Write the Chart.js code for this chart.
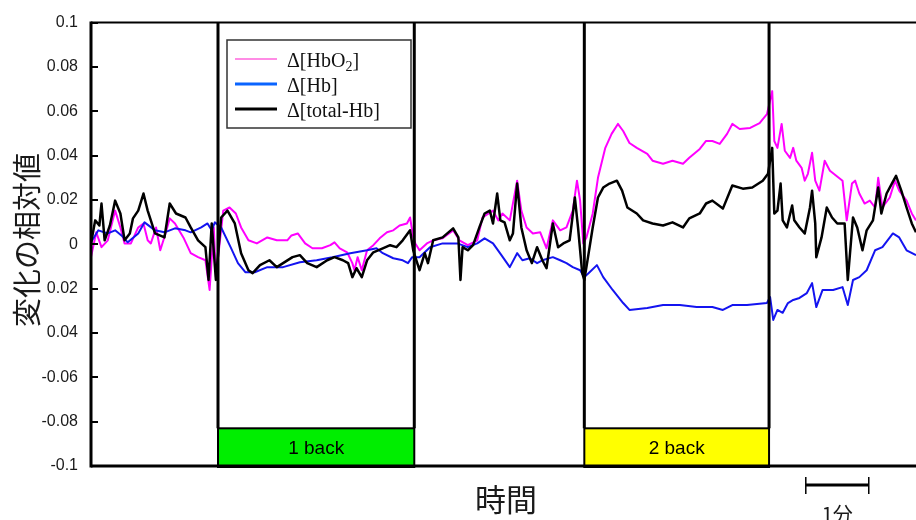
<!DOCTYPE html>
<html>
<head>
<meta charset="utf-8">
<script src="https://cdn.jsdelivr.net/npm/chart.js@4.4.1/dist/chart.umd.min.js"></script>
<style>
  html, body { margin: 0; padding: 0; background: #fff; }
  canvas { display: block; }
</style>
</head>
<body>
<canvas id="c" width="916" height="520"></canvas>
<script>
// Time (s) and relative change for each hemoglobin signal
const hbo2Time = [0,5,10,16,23,28,32,38,45,50,54,57,62,66,71,75,80,88,95,102,109,113,117,119,126,132,138,143,150,158,168,177,187,191,197,204,211,220,228,232,237,244,249,251,254,258,263,269,275,282,288,294,301,304,307,309,313,320,326,335,345,351,359,368,373,383,388,392,399,406,410,415,421,428,434,440,447,453,459,463,466,469,472,478,483,490,496,502,507,513,520,530,535,545,554,564,570,580,586,592,599,606,611,618,628,637,644,649,651,654,658,661,666,669,672,677,680,683,687,690,694,699,704,710,716,720,725,728,732,737,742,747,750,754,761,766,770,777,782,786];
const hbo2Values = [-0.0058,0.0054,-0.0013,0.0018,0.0152,0.0076,0.0004,0.0004,0.0076,0.0094,0.0018,0.0004,0.0076,-0.0027,0.0049,0.0117,0.0094,0.0031,-0.0040,-0.0058,-0.0072,-0.0206,0.0076,-0.0148,0.0152,0.0166,0.0139,0.0076,0.0018,0.0004,0.0031,0.0018,0.0018,0.0040,0.0049,0.0004,-0.0018,-0.0018,-0.0004,0.0009,-0.0018,-0.0036,-0.0085,-0.0117,-0.0058,-0.0117,-0.0027,-0.0004,0.0027,0.0054,0.0063,0.0085,0.0094,0.0121,0.0031,0.0004,-0.0027,0.0004,0.0018,0.0027,0.0063,0.0018,-0.0004,0.0018,0.0121,0.0152,0.0108,0.0139,0.0108,0.0287,0.0152,0.0076,0.0049,0.0054,-0.0018,0.0108,0.0063,0.0076,0.0152,0.0287,0.0197,0.0004,0.0031,0.0139,0.0300,0.0435,0.0498,0.0543,0.0511,0.0457,0.0435,0.0408,0.0377,0.0363,0.0377,0.0363,0.0390,0.0430,0.0466,0.0466,0.0453,0.0498,0.0543,0.0520,0.0525,0.0547,0.0587,0.0691,0.0466,0.0435,0.0543,0.0422,0.0390,0.0435,0.0377,0.0345,0.0287,0.0318,0.0413,0.0287,0.0242,0.0377,0.0332,0.0309,0.0287,0.0108,0.0274,0.0287,0.0229,0.0184,0.0197,0.0166,0.0300,0.0166,0.0211,0.0287,0.0242,0.0197,0.0139,0.0108];

const hbTime = [0,7,16,23,29,35,45,51,61,70,80,90,95,105,111,115,118,124,133,140,147,156,168,183,199,215,230,247,263,272,278,288,297,302,306,313,323,335,349,359,368,375,383,391,399,406,411,418,425,430,440,447,453,459,466,470,475,482,488,497,507,513,530,545,561,577,592,602,611,625,644,647,650,654,659,664,669,675,682,687,691,697,707,716,721,726,732,739,747,754,764,770,777,786];
const hbValues = [0.0009,0.0063,0.0049,0.0063,0.0040,0.0009,0.0049,0.0099,0.0063,0.0054,0.0072,0.0063,0.0054,0.0076,0.0094,0.0063,0.0099,0.0076,-0.0013,-0.0085,-0.0126,-0.0126,-0.0103,-0.0103,-0.0081,-0.0072,-0.0058,-0.0040,-0.0027,-0.0018,-0.0040,-0.0063,-0.0072,-0.0085,-0.0058,-0.0058,-0.0013,0.0004,0.0004,-0.0013,0.0004,0.0027,0.0004,-0.0049,-0.0103,-0.0040,-0.0072,-0.0063,-0.0085,-0.0072,-0.0058,-0.0072,-0.0085,-0.0103,-0.0117,-0.0148,-0.0126,-0.0094,-0.0148,-0.0206,-0.0265,-0.0296,-0.0287,-0.0274,-0.0274,-0.0283,-0.0283,-0.0296,-0.0274,-0.0274,-0.0265,-0.0238,-0.0341,-0.0296,-0.0309,-0.0265,-0.0251,-0.0242,-0.0220,-0.0175,-0.0283,-0.0206,-0.0206,-0.0193,-0.0274,-0.0161,-0.0148,-0.0117,-0.0027,-0.0013,0.0049,0.0031,-0.0027,-0.0049];

const totalTime = [0,4,8,10,13,18,23,28,32,37,40,45,50,54,61,70,75,81,90,95,102,109,112,115,119,124,130,137,143,150,154,161,170,177,183,192,199,206,215,225,232,240,245,249,253,258,263,269,278,285,291,297,304,307,310,313,318,321,326,335,345,350,352,354,359,364,370,375,380,383,387,390,394,399,402,406,410,415,420,425,430,434,440,445,450,456,461,464,468,470,472,478,483,488,494,501,506,511,520,526,535,545,554,564,570,580,586,592,602,611,621,630,640,645,649,651,654,657,659,663,668,670,675,680,685,687,690,691,696,701,706,711,718,721,726,730,735,739,745,750,753,758,763,767,772,777,782,786];
const totalValues = [0.0004,0.0108,0.0085,0.0184,0.0018,0.0085,0.0197,0.0139,0.0018,0.0049,0.0117,0.0152,0.0229,0.0152,0.0049,0.0031,0.0184,0.0139,0.0121,0.0076,0.0018,-0.0013,-0.0161,0.0094,-0.0161,0.0121,0.0152,0.0094,-0.0040,-0.0117,-0.0130,-0.0094,-0.0072,-0.0103,-0.0085,-0.0058,-0.0049,-0.0085,-0.0103,-0.0072,-0.0058,-0.0072,-0.0085,-0.0148,-0.0108,-0.0148,-0.0072,-0.0036,-0.0018,-0.0004,-0.0013,0.0018,0.0063,-0.0027,-0.0072,-0.0117,-0.0040,-0.0085,0.0018,0.0031,0.0072,0.0031,-0.0161,-0.0013,-0.0027,-0.0004,0.0076,0.0139,0.0152,0.0094,0.0229,0.0108,0.0099,0.0018,0.0049,0.0274,0.0076,-0.0027,-0.0085,-0.0013,-0.0072,-0.0108,0.0094,-0.0013,0.0004,0.0018,0.0211,0.0076,-0.0130,-0.0161,-0.0103,0.0076,0.0211,0.0256,0.0274,0.0287,0.0242,0.0166,0.0139,0.0108,0.0094,0.0085,0.0099,0.0076,0.0117,0.0139,0.0184,0.0197,0.0161,0.0265,0.0251,0.0256,0.0287,0.0318,0.0435,0.0139,0.0152,0.0274,0.0108,0.0076,0.0175,0.0108,0.0076,0.0049,0.0166,0.0242,0.0094,-0.0058,0.0031,0.0166,0.0121,0.0094,0.0094,-0.0161,0.0121,0.0076,-0.0027,0.0063,0.0108,0.0256,0.0139,0.0229,0.0274,0.0309,0.0242,0.0166,0.0094,0.0054];

const seriesNames = ['Δ[HbO₂]', 'Δ[Hb]', 'Δ[total-Hb]'];

// Vertical axis ticks and their printed labels
const yTickValues = [0.1, 0.08, 0.06, 0.04, 0.02, 0, -0.02, -0.04, -0.06, -0.08, -0.1];
const yTickLabels = ['0.1', '0.08', '0.06', '0.04', '0.02', '0', '0.02', '0.04', '-0.06', '-0.08', '-0.1'];

// Task blocks (seconds)
const taskNames = ['1 back', '2 back'];
const taskStart = [121, 470];
const taskEnd = [308, 646];

const yTitle = '変化の相対値';
const xTitle = '時間';
const scaleBarLabel = '1分';
const scaleBarRange = [681, 741];

const toPoints = (t, v) => t.map((s, i) => ({ x: s, y: v[i] }));

const taskColors = ['#00ee00', '#ffff00'];
const legendSampleColors = ['#ff66dd', '#0a64ff', '#000000'];
const legendSampleWidths = [1.5, 3, 3];

function strokeLine(ctx, x0, y0, x1, y1) {
  ctx.beginPath();
  ctx.moveTo(x0, y0);
  ctx.lineTo(x1, y1);
  ctx.stroke();
}

// Draws a label where subscript digits are set smaller and lowered
function drawRichLabel(ctx, text, x, y, size, family) {
  const subs = '₀₁₂₃₄₅₆₇₈₉';
  let cx = x;
  for (const ch of text) {
    const k = subs.indexOf(ch);
    if (k >= 0) {
      ctx.font = `${Math.round(size * 0.68)}px ${family}`;
      ctx.fillText(String(k), cx, y + size * 0.22);
      cx += ctx.measureText(String(k)).width;
    } else {
      ctx.font = `${size}px ${family}`;
      ctx.fillText(ch, cx, y);
      cx += ctx.measureText(ch).width;
    }
  }
}

const decorations = {
  id: 'decorations',
  afterDatasetsDraw(chart) {
    const { ctx, chartArea: a, scales: { x, y } } = chart;
    ctx.save();
    ctx.lineCap = 'butt';

    // task blocks along the bottom, with their boundary lines
    const boxTop = y.getPixelForValue(-0.083);
    taskStart.forEach((s, i) => {
      const x0 = x.getPixelForValue(s);
      const x1 = x.getPixelForValue(taskEnd[i]);
      ctx.fillStyle = taskColors[i];
      ctx.fillRect(x0, boxTop, x1 - x0, a.bottom - boxTop);
      ctx.strokeStyle = '#000';
      ctx.lineWidth = 2;
      ctx.strokeRect(x0, boxTop, x1 - x0, a.bottom - boxTop + 1);
      ctx.lineWidth = 3;
      strokeLine(ctx, x0, a.top, x0, boxTop);
      strokeLine(ctx, x1, a.top, x1, boxTop);
      ctx.fillStyle = '#000';
      ctx.font = '19px "Liberation Sans Narrow", "Liberation Sans", sans-serif';
      ctx.textAlign = 'center';
      ctx.textBaseline = 'middle';
      ctx.fillText(taskNames[i], (x0 + x1) / 2, (boxTop + a.bottom) / 2 + 2);
    });

    // plot frame
    ctx.strokeStyle = '#000';
    ctx.lineWidth = 2;
    strokeLine(ctx, a.left, a.top, a.right, a.top);
    ctx.lineWidth = 3;
    strokeLine(ctx, a.left, a.top - 1, a.left, a.bottom + 1.5);
    strokeLine(ctx, a.left, a.bottom, a.right, a.bottom);

    // inward tick marks
    ctx.lineWidth = 2;
    yTickValues.forEach(v => {
      const py = Math.round(y.getPixelForValue(v));
      strokeLine(ctx, a.left, py, a.left + 7, py);
    });

    // legend
    const lx = a.left + 136, ly = 40, lw = 184, lh = 88;
    ctx.fillStyle = '#fff';
    ctx.fillRect(lx, ly, lw, lh);
    ctx.strokeStyle = '#333';
    ctx.lineWidth = 1.5;
    ctx.strokeRect(lx, ly, lw, lh);
    const rows = [59, 84, 109];
    seriesNames.forEach((name, i) => {
      ctx.strokeStyle = legendSampleColors[i];
      ctx.lineWidth = legendSampleWidths[i];
      strokeLine(ctx, lx + 8, rows[i], lx + 50, rows[i]);
      ctx.fillStyle = '#111';
      ctx.textAlign = 'left';
      ctx.textBaseline = 'alphabetic';
      drawRichLabel(ctx, name, lx + 60, rows[i] + 8, 20, '"Liberation Serif", "Times New Roman", serif');
    });
    ctx.restore();
  },
  afterDraw(chart) {
    const { ctx, chartArea: a, scales: { x } } = chart;
    ctx.save();
    ctx.fillStyle = '#1a1a1a';
    // vertical axis title
    ctx.translate(27, 240);
    ctx.rotate(-Math.PI / 2);
    ctx.font = '29px "Noto Sans CJK JP", sans-serif';
    ctx.textAlign = 'center';
    ctx.textBaseline = 'middle';
    ctx.fillText(yTitle, 0, 0);
    ctx.restore();

    ctx.save();
    ctx.fillStyle = '#1a1a1a';
    ctx.font = '31px "Noto Sans CJK JP", sans-serif';
    ctx.textAlign = 'center';
    ctx.textBaseline = 'middle';
    ctx.fillText(xTitle, 506, 499);

    // time scale bar
    const s0 = x.getPixelForValue(scaleBarRange[0]);
    const s1 = x.getPixelForValue(scaleBarRange[1]);
    ctx.strokeStyle = '#000';
    ctx.lineWidth = 3;
    strokeLine(ctx, s0, 485, s1, 485);
    ctx.lineWidth = 1.5;
    strokeLine(ctx, s0, 477, s0, 494);
    strokeLine(ctx, s1, 477, s1, 494);
    ctx.font = '20px "Noto Sans CJK JP", sans-serif';
    ctx.fillText(scaleBarLabel, (s0 + s1) / 2, 514);
    ctx.restore();
  }
};

new Chart(document.getElementById('c'), {
  type: 'line',
  data: {
    datasets: [
      { label: seriesNames[0], data: toPoints(hbo2Time, hbo2Values), borderColor: '#ff00ff', borderWidth: 2, order: 2 },
      { label: seriesNames[1], data: toPoints(hbTime, hbValues), borderColor: '#1414f0', borderWidth: 2, order: 1 },
      { label: seriesNames[2], data: toPoints(totalTime, totalValues), borderColor: '#000000', borderWidth: 2.5, order: 0 }
    ]
  },
  options: {
    responsive: false,
    animation: false,
    devicePixelRatio: 1,
    parsing: true,
    elements: { point: { radius: 0 }, line: { tension: 0, borderJoinStyle: 'round' } },
    layout: { padding: { left: 0, right: 0, top: 21, bottom: 54 } },
    plugins: { legend: { display: false }, tooltip: { enabled: false } },
    scales: {
      x: { type: 'linear', min: 0, max: 786, display: false },
      y: {
        min: -0.1, max: 0.1,
        afterFit(scale) { scale.width = 91; },
        afterBuildTicks(scale) { scale.ticks = yTickValues.map(v => ({ value: v })); },
        grid: { display: false, drawTicks: false },
        border: { display: false },
        ticks: {
          padding: 13,
          color: '#1a1a1a',
          font: { family: '"Liberation Sans", Arial, sans-serif', size: 16 },
          callback(value) {
            const i = yTickValues.findIndex(v => Math.abs(v - value) < 1e-9);
            return i >= 0 ? yTickLabels[i] : '';
          }
        }
      }
    }
  },
  plugins: [decorations]
});
</script>
</body>
</html>
